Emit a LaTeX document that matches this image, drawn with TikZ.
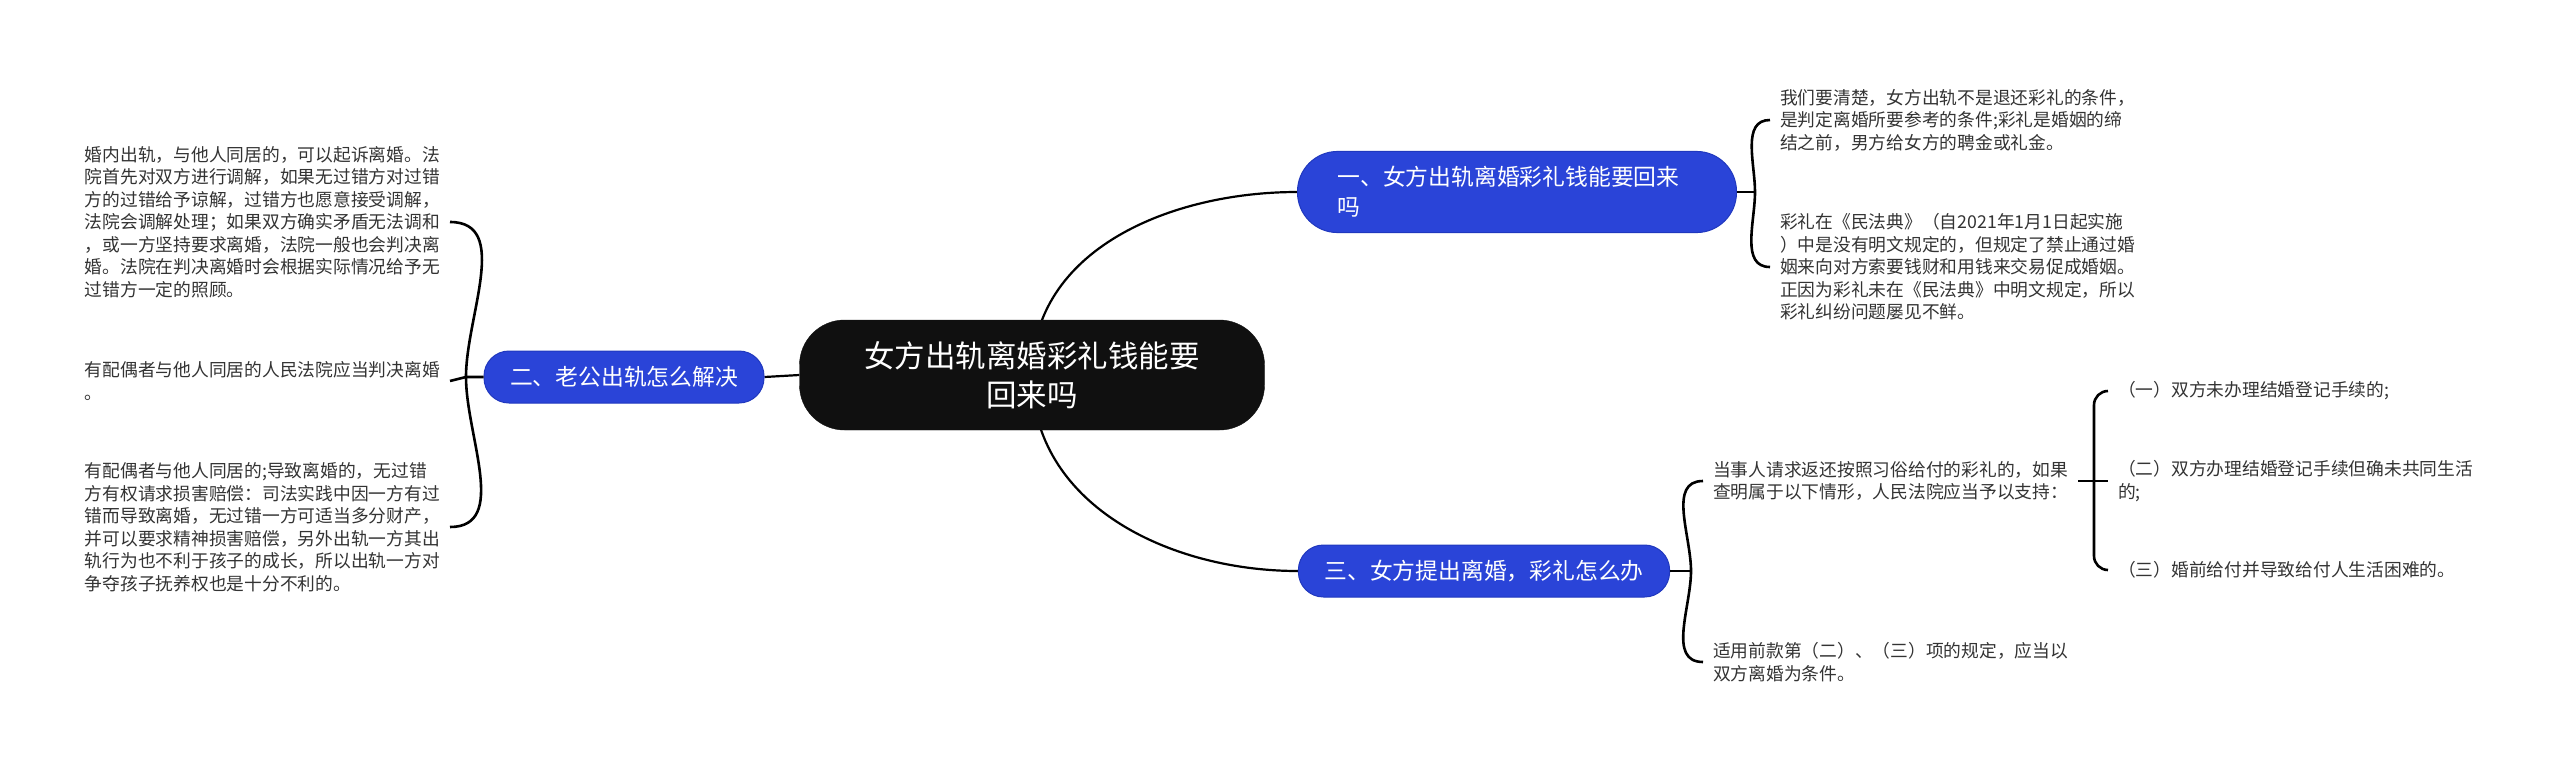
\documentclass[tikz,border=0pt]{standalone}
\usepackage{fontspec}
\setmainfont{Noto Sans CJK SC}
\usetikzlibrary{positioning, backgrounds}

\definecolor{topicBlue}{HTML}{2A44D8}
\definecolor{topicEdge}{HTML}{2038BE}
\definecolor{rootBlack}{HTML}{101010}
\definecolor{leafGray}{HTML}{333333}

\begin{document}
\begin{tikzpicture}[
    x=1pt, y=1pt,
    % Node Styles
    root/.style={rectangle, rounded corners=45pt, fill=rootBlack, draw=rootBlack, text=white, align=center, minimum width=465pt, minimum height=110pt, font=\fontsize{30.5}{39}\selectfont},
    topic/.style={rectangle, rounded corners=25pt, fill=topicBlue, draw=topicEdge, line width=1pt, text=white, inner xsep=26pt, minimum height=52pt, font=\fontsize{22.8}{30}\selectfont},
    leaf/.style={align=left, inner xsep=10pt, inner ysep=0pt, text=leafGray, font=\fontsize{17.75}{22.5}\selectfont},
    % Connector Styles
    link/.style={line width=2.2pt, black},
    bracket/.style={line width=2.6pt, black}
]
\useasboundingbox (0,0) rectangle (2560,-769);

% =========================================================
% CENTER
% =========================================================
\node[root] (root) at (1032,-375) {女方出轨离婚彩礼钱能要\\回来吗};

% =========================================================
% LEFT BRANCH: 二
% =========================================================
\node[topic] (topicTwo) at (624,-377) {二、老公出轨怎么解决};

\node[leaf, anchor=east] (husbandA) at (450,-222) {婚内出轨，与他人同居的，可以起诉离婚。法\\院首先对双方进行调解，如果无过错方对过错\\方的过错给予谅解，过错方也愿意接受调解，\\法院会调解处理；如果双方确实矛盾无法调和\\，或一方坚持要求离婚，法院一般也会判决离\\婚。法院在判决离婚时会根据实际情况给予无\\过错方一定的照顾。};
\node[leaf, anchor=east] (husbandB) at (450,-381) {有配偶者与他人同居的人民法院应当判决离婚\\。};
\node[leaf, anchor=east] (husbandC) at (450,-527) {有配偶者与他人同居的;导致离婚的，无过错\\方有权请求损害赔偿：司法实践中因一方有过\\错而导致离婚，无过错一方可适当多分财产，\\并可以要求精神损害赔偿，另外出轨一方其出\\轨行为也不利于孩子的成长，所以出轨一方对\\争夺孩子抚养权也是十分不利的。};

% =========================================================
% RIGHT BRANCH: 一
% =========================================================
\node[topic, rounded corners=40pt, inner xsep=40pt, inner ysep=15pt, text width=359pt, align=left] (topicOne) at (1517,-192) {一、女方出轨离婚彩礼钱能要回来\\吗};

\node[leaf, anchor=west] (reason) at (1770,-120) {我们要清楚，女方出轨不是退还彩礼的条件，\\是判定离婚所要参考的条件;彩礼是婚姻的缔\\结之前，男方给女方的聘金或礼金。};
\node[leaf, anchor=west] (civilCode) at (1770,-267) {彩礼在《民法典》（自2021年1月1日起实施\\）中是没有明文规定的，但规定了禁止通过婚\\姻来向对方索要钱财和用钱来交易促成婚姻。\\正因为彩礼未在《民法典》中明文规定，所以\\彩礼纠纷问题屡见不鲜。};

% =========================================================
% RIGHT BRANCH: 三
% =========================================================
\node[topic] (topicThree) at (1484,-571) {三、女方提出离婚，彩礼怎么办};

\node[leaf, anchor=west] (claim) at (1703,-481) {当事人请求返还按照习俗给付的彩礼的，如果\\查明属于以下情形，人民法院应当予以支持：};
\node[leaf, anchor=west] (condition) at (1703,-662) {适用前款第（二）、（三）项的规定，应当以\\双方离婚为条件。};

\node[leaf, anchor=west] (caseOne) at (2108,-391) {（一）双方未办理结婚登记手续的;};
\node[leaf, anchor=west] (caseTwo) at (2108,-481) {（二）双方办理结婚登记手续但确未共同生活\\的;};
\node[leaf, anchor=west] (caseThree) at (2108,-570) {（三）婚前给付并导致给付人生活困难的。};

% =========================================================
% CONNECTORS
% =========================================================
\coordinate (jTwo) at (466,-377);
\coordinate (jOne) at (1755,-192);
\coordinate (jThree) at (1691,-571);
\coordinate (jCase) at (2094,-481);

\begin{scope}[on background layer]
\draw[link] (root.center) to[out=90,in=180] (topicOne.west);
\draw[link] (root.center) to[out=-90,in=180] (topicThree.west);
\draw[link] (topicTwo.east) -- (root.west);
\end{scope}

% left bracket
\draw[bracket] (topicTwo.west) -- (jTwo) -- (husbandB.east);
\draw[bracket] (husbandA.east) to[out=0,in=90] (jTwo) to[out=-90,in=0] (husbandC.east);

% bracket of 一
\draw[bracket] (topicOne.east) -- (jOne);
\draw[bracket] (reason.west) to[out=180,in=90] (jOne) to[out=-90,in=180] (civilCode.west);

% bracket of 三
\draw[bracket] (topicThree.east) -- (jThree);
\draw[bracket] (claim.west) to[out=180,in=90] (jThree) to[out=-90,in=180] (condition.west);

% cases
\draw[bracket] (claim.east) -- (jCase) -- (caseTwo.west);
\draw[bracket, rounded corners=14pt] (caseOne.west) -| (jCase) |- (caseThree.west);

\end{tikzpicture}
\end{document}
